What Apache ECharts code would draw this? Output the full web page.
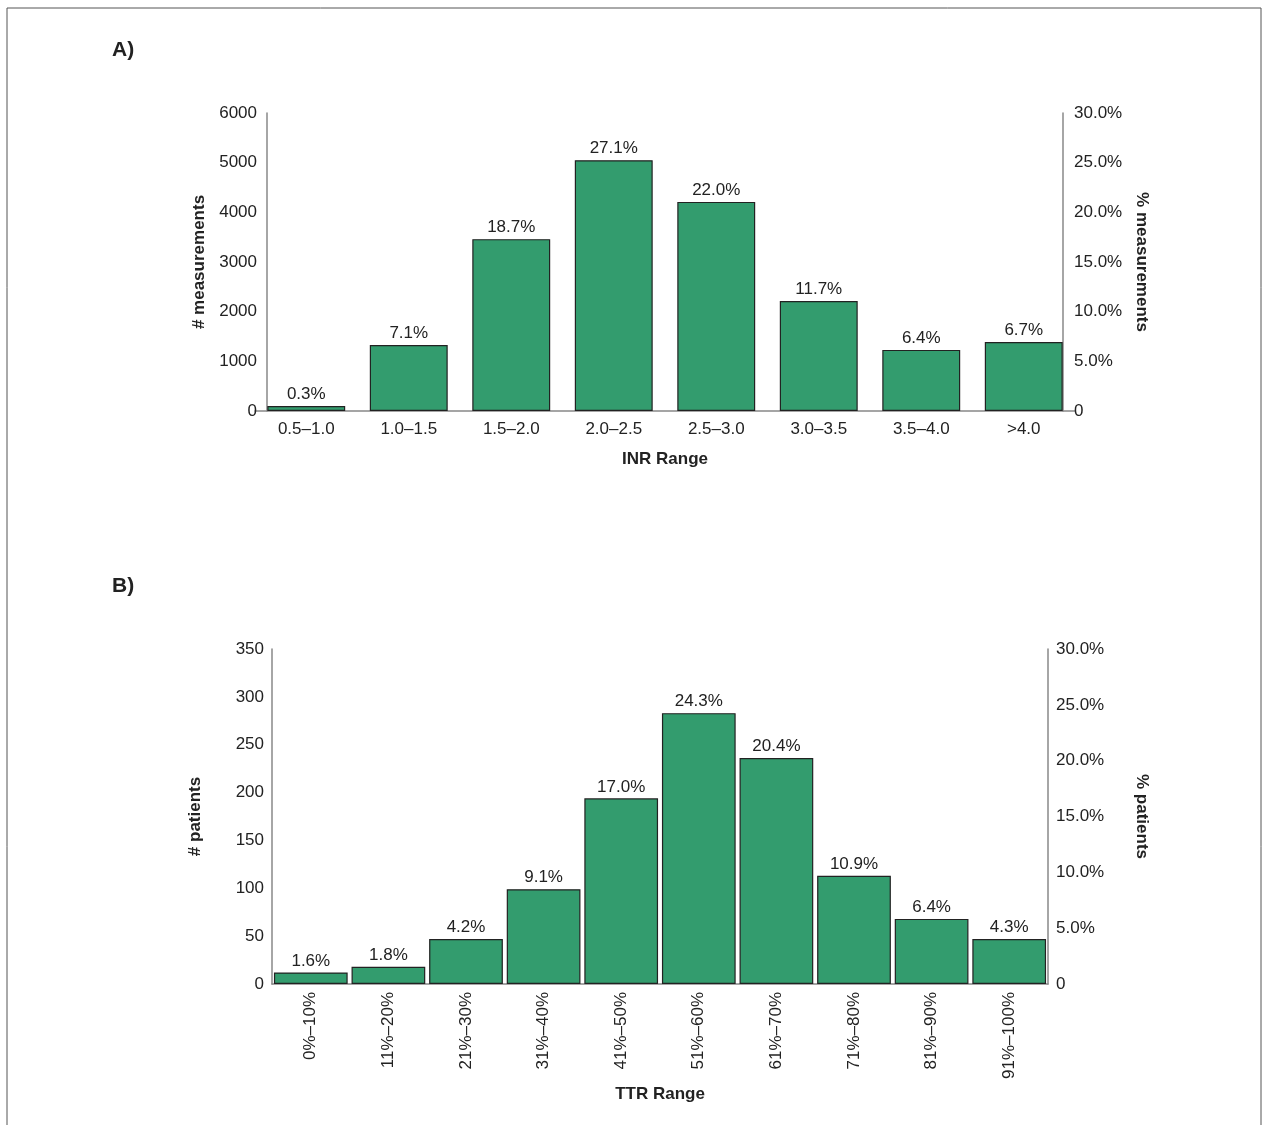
<!DOCTYPE html>
<html>
<head>
<meta charset="utf-8">
<script src="https://cdn.jsdelivr.net/npm/echarts@6/dist/echarts.min.js"></script>
<style>html,body{margin:0;padding:0;background:#fff}</style>
</head>
<body>
<div id="main" style="width:1267px;height:1125px"></div>
<script>
const inrCats = ['0.5–1.0', '1.0–1.5', '1.5–2.0', '2.0–2.5', '2.5–3.0', '3.0–3.5', '3.5–4.0', '>4.0']
const inrCounts = [100, 1330, 3460, 5050, 4210, 2215, 1230, 1390]
const inrPct = ['0.3%', '7.1%', '18.7%', '27.1%', '22.0%', '11.7%', '6.4%', '6.7%']
const ttrCats = ['0%–10%', '11%–20%', '21%–30%', '31%–40%', '41%–50%', '51%–60%', '61%–70%', '71%–80%', '81%–90%', '91%–100%']
const ttrCounts = [12, 18, 47, 99, 194, 283, 236, 113, 68, 47]
const ttrPct = ['1.6%', '1.8%', '4.2%', '9.1%', '17.0%', '24.3%', '20.4%', '10.9%', '6.4%', '4.3%']

const FONT = '"Liberation Sans Narrow", "Liberation Sans", Arial, sans-serif'
const txt = '#222'
const axisLine = { show: true, lineStyle: { color: '#888', width: 1.5 } }
const pctFmt = v => v === 0 ? '0' : v.toFixed(1) + '%'
const numFmt = v => String(v)
const lbl = { color: txt, fontFamily: FONT, fontSize: 17 }
const nameStyle = { color: txt, fontFamily: FONT, fontSize: 17, fontWeight: 'bold' }

var myChart = echarts.init(document.getElementById('main'))
myChart.setOption({
	animation: false,
	textStyle: { fontFamily: FONT },
	graphic: [
		{ type: 'rect', shape: { x: 7, y: 8, width: 1254, height: 1140 }, style: { fill: 'none', stroke: '#555', lineWidth: 1 } },
		{ type: 'text', left: 112, top: 40, style: { text: 'A)', font: 'bold 21px ' + FONT, fill: txt } },
		{ type: 'text', left: 112, top: 576, style: { text: 'B)', font: 'bold 21px ' + FONT, fill: txt } }
	],
	grid: [
		{ left: 255, width: 820, top: 113, height: 298 },
		{ left: 272, width: 776, top: 649, height: 335 }
	],
	xAxis: [
		{
			type: 'category', gridIndex: 0, data: inrCats,
			axisLine: axisLine, axisTick: { show: false },
			axisLabel: Object.assign({ margin: 10 }, lbl),
			name: 'INR Range', nameLocation: 'middle', nameGap: 40, nameTextStyle: nameStyle
		},
		{
			type: 'category', gridIndex: 1, data: ttrCats,
			axisLine: axisLine, axisTick: { show: false },
			axisLabel: Object.assign({ rotate: 90, margin: 8, interval: 0 }, lbl),
			name: 'TTR Range', nameLocation: 'middle', nameGap: 102, nameTextStyle: nameStyle
		}
	],
	yAxis: [
		{
			type: 'value', gridIndex: 0, min: 0, max: 6000, interval: 1000, offset: -12,
			axisLine: axisLine, axisTick: { show: false }, splitLine: { show: false },
			axisLabel: Object.assign({ margin: 10, formatter: numFmt }, lbl),
			name: '# measurements', nameLocation: 'middle', nameRotate: 90, nameGap: 58, nameTextStyle: nameStyle
		},
		{
			type: 'value', gridIndex: 0, position: 'right', min: 0, max: 30, interval: 5, offset: -12,
			axisLine: axisLine, axisTick: { show: false }, splitLine: { show: false },
			axisLabel: Object.assign({ margin: 11, formatter: pctFmt }, lbl),
			name: '% measurements', nameLocation: 'middle', nameRotate: -90, nameGap: 70, nameTextStyle: nameStyle
		},
		{
			type: 'value', gridIndex: 1, min: 0, max: 350, interval: 50,
			axisLine: axisLine, axisTick: { show: false }, splitLine: { show: false },
			axisLabel: Object.assign({ margin: 8, formatter: numFmt }, lbl),
			name: '# patients', nameLocation: 'middle', nameRotate: 90, nameGap: 68, nameTextStyle: nameStyle
		},
		{
			type: 'value', gridIndex: 1, position: 'right', min: 0, max: 30, interval: 5,
			axisLine: axisLine, axisTick: { show: false }, splitLine: { show: false },
			axisLabel: Object.assign({ margin: 8, formatter: pctFmt }, lbl),
			name: '% patients', nameLocation: 'middle', nameRotate: -90, nameGap: 85, nameTextStyle: nameStyle
		}
	],
	series: [
		{
			type: 'bar', xAxisIndex: 0, yAxisIndex: 0, data: inrCounts, barCategoryGap: '24%',
			itemStyle: { color: '#339c6e', borderColor: '#222', borderWidth: 1.2 },
			label: Object.assign({ show: true, position: 'top', distance: 3, formatter: p => inrPct[p.dataIndex] }, lbl)
		},
		{
			type: 'bar', xAxisIndex: 1, yAxisIndex: 2, data: ttrCounts, barCategoryGap: '5%',
			itemStyle: { color: '#339c6e', borderColor: '#222', borderWidth: 1.2 },
			label: Object.assign({ show: true, position: 'top', distance: 3, formatter: p => ttrPct[p.dataIndex] }, lbl)
		}
	]
})
</script>
</body>
</html>
